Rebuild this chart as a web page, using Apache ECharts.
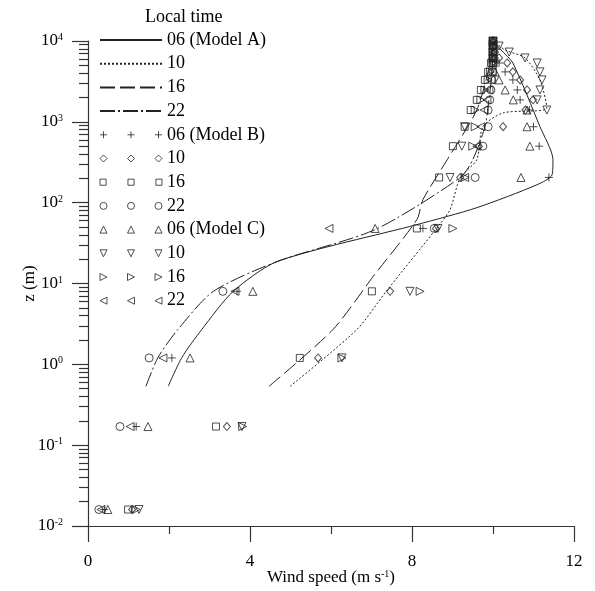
<!DOCTYPE html>
<html><head><meta charset="utf-8">
<script src="https://cdn.jsdelivr.net/npm/echarts@6/dist/echarts.min.js"></script>
<style>html,body{margin:0;padding:0;background:#fff}#c{width:595px;height:591px}</style>
</head><body><div id="c"></div>
<script>
// ---- data ----
const xTicks = [0, 4, 8, 12];
const yDecades = [0.01, 0.1, 1, 10, 100, 1000, 10000];

// Model A profiles: [wind speed (m/s), z (m)]
const lineA06 = [[1.98,0.535],[2.32,1.22],[2.81,2.70],[3.58,7.96],[4.67,18.7],[8.12,53.5],[9.60,86.7],[11.09,167],[11.46,222],[11.48,340],[11.16,870],[10.49,5350],[10.2,7740],[10.0,10000]];
const lineA10 = [[4.99,0.535],[6.64,2.70],[7.36,7.96],[8.64,50.6],[8.94,82],[9.19,204],[9.60,340],[9.75,870],[10.25,1290],[11.33,1490],[11.16,3300],[10.79,6170],[10.30,7740],[10.0,10000]];
const lineA16 = [[4.47,0.535],[6.05,2.70],[7.04,12.2],[8.12,61.7],[8.27,109],[8.87,340],[9.60,1406],[9.93,5350],[10.0,10000]];
const lineA22 = [[1.43,0.535],[1.73,1.22],[2.22,2.70],[3.09,7.96],[4.67,18.7],[7.09,46.5],[9.19,204],[9.50,340],[9.80,870],[9.90,1870],[9.98,4385],[10.0,10000]];

// Model B / C levels (m)
const levels   = [0.016, 0.17, 1.2, 8, 48, 205, 500, 870, 1400, 1870, 2480, 3300, 4150, 5350, 6170, 7300, 8660, 10000];
const modelB06 = [0.40, 1.19, 2.07, 3.68, 8.27, 11.38, 11.14, 11.00, 10.90, 10.67, 10.60, 10.49, 10.30, 10.15, 10.05, 10.0, 10.0, 10.0];
const modelB10 = [1.09, 3.43, 5.68, 7.46, 8.59, 9.19, 9.65, 10.25, 10.80, 10.99, 10.84, 10.67, 10.49, 10.35, 10.15, 10.05, 10.0, 10.0];
const modelB16 = [0.99, 3.16, 5.23, 7.01, 8.12, 8.67, 9.01, 9.30, 9.45, 9.60, 9.70, 9.80, 9.88, 9.95, 10.0, 10.0, 10.0, 10.0];
const modelB22 = [0.27, 0.79, 1.51, 3.33, 8.55, 9.56, 9.75, 9.88, 9.88, 9.92, 9.95, 9.97, 9.99, 10.0, 10.0, 10.0, 10.0, 10.0];
const modelC06 = [0.49, 1.48, 2.52, 4.07, 7.09, 10.69, 10.91, 10.84, 10.84, 10.50, 10.30, 10.15, 10.05, 10.0, 10.0, 10.0, 10.0, 10.0];
const modelC10 = [1.26, 3.80, 6.27, 7.95, 8.64, 8.94, 9.23, 9.30, 11.33, 11.09, 11.16, 11.21, 11.16, 11.09, 10.79, 10.40, 10.15, 10.0];
const modelC16 = [1.19, 3.82, 6.27, 8.20, 9.01, 9.31, 9.50, 9.56, 9.56, 9.70, 9.80, 9.88, 9.94, 10.0, 10.0, 10.0, 10.0, 10.0];
const modelC22 = [0.32, 1.04, 1.85, 3.63, 5.95, 9.30, 9.60, 9.70, 9.78, 9.85, 9.90, 9.95, 9.98, 10.0, 10.0, 10.0, 10.0, 10.0];

// ---- styling ----
const SERIF = 'Liberation Serif';
const INK = '#222';
const minorY = [];
for (let e = -2; e < 4; e++) for (let m = 2; m <= 9; m++) minorY.push(+(m * Math.pow(10, e)).toPrecision(3));

const PLUS = 'path://M0,3.5H7M3.5,0V7';
function triple(shape) { return 'path://' + [0, 27.5, 55].map(o => shape(o)).join(''); }
const shapes = {
  plus: o => `M${o},3.5H${o+7}M${o+3.5},0V7`,
  diamond: o => `M${o+3.5},0L${o+7},3.5L${o+3.5},7L${o},3.5Z`,
  rect: o => `M${o+0.5},0.5H${o+6.5}V6.5H${o+0.5}Z`,
  circle: o => `M${o},3.5A3.5,3.5 0 1,0 ${o+7},3.5A3.5,3.5 0 1,0 ${o},3.5Z`,
  up: o => `M${o+3.5},0L${o+7},7L${o},7Z`,
  down: o => `M${o},0L${o+7},0L${o+3.5},7Z`,
  right: o => `M${o},0L${o+7},3.5L${o},7Z`,
  left: o => `M${o+7},0L${o},3.5L${o+7},7Z`
};

const lineDefs = [
  {id:'A06', label:'06 (Model A)', data: lineA06, dash:'solid'},
  {id:'A10', label:'10', data: lineA10, dash:[2,2]},
  {id:'A16', label:'16', data: lineA16, dash:[15,5]},
  {id:'A22', label:'22', data: lineA22, dash:[15,3,2,3]}
];
const markerDefs = [
  {id:'B06', label:'06 (Model B)', xs: modelB06, symbol: PLUS, rot:0, size:8, icon:'plus'},
  {id:'B10', label:'10', xs: modelB10, symbol:'diamond', rot:0, size:[7,8], icon:'diamond'},
  {id:'B16', label:'16', xs: modelB16, symbol:'rect', rot:0, size:7, icon:'rect'},
  {id:'B22', label:'22', xs: modelB22, symbol:'circle', rot:0, size:8, icon:'circle'},
  {id:'C06', label:'06 (Model C)', xs: modelC06, symbol:'triangle', rot:0, size:8, icon:'up'},
  {id:'C10', label:'10', xs: modelC10, symbol:'triangle', rot:180, size:8, icon:'down'},
  {id:'C16', label:'16', xs: modelC16, symbol:'triangle', rot:-90, size:8, icon:'right'},
  {id:'C22', label:'22', xs: modelC22, symbol:'triangle', rot:90, size:8, icon:'left'}
];
const labelOf = {};
lineDefs.concat(markerDefs).forEach(d => labelOf[d.id] = d.label);

const series = [];
lineDefs.forEach(d => series.push({
  name: d.id, type:'line', data: d.data, symbol:'none', showSymbol:false, smooth:0.25,
  lineStyle:{color:INK, width:1, type:d.dash}, itemStyle:{color:INK}, z:2, silent:true
}));
markerDefs.forEach(d => series.push({
  name: d.id, type:'scatter', data: levels.map((z, i) => [d.xs[i], z]),
  symbol: d.symbol, symbolRotate: d.rot, symbolSize: d.size,
  itemStyle:{color:'transparent', borderColor:INK, borderWidth:1}, z:3, silent:true
}));

const legendData = lineDefs.map(d => ({name:d.id,
    itemStyle:{color:'transparent', borderColor:'transparent', borderWidth:0, opacity:0}}))
  .concat(markerDefs.map(d => ({name:d.id, icon: triple(shapes[d.icon]),
    itemStyle:{color:'transparent', borderColor:INK, borderWidth:1}})));

const chart = echarts.init(document.getElementById('c'), null, {renderer:'canvas'});
chart.setOption({
  animation:false,
  backgroundColor:'#fff',
  title:{text:'Local time', left:140, top:3, textStyle:{fontFamily:SERIF, fontSize:18, fontWeight:'normal', color:'#000'}},
  legend:{
    orient:'vertical', left:94, top:26, itemWidth:62, itemHeight:7, itemGap:5.7,
    selectedMode:false, data: legendData,
    formatter: n => labelOf[n],
    textStyle:{fontFamily:SERIF, fontSize:18, color:'#000', lineHeight:18}
  },
  grid:{left:88, right:21, top:41, bottom:64, containLabel:false},
  xAxis:{
    type:'value', min:xTicks[0], max:xTicks[xTicks.length-1], interval:4,
    axisLine:{lineStyle:{color:'#333', width:1.2}},
    axisTick:{show:true, inside:false, length:16, lineStyle:{color:'#333', width:1.2}},
    minorTick:{show:true, splitNumber:2, length:8, lineStyle:{color:'#333', width:1.2}},
    splitLine:{show:false},
    axisLabel:{fontFamily:SERIF, fontSize:17, color:'#000', margin:27},
    name:'Wind speed (m s{s|-1})', nameLocation:'middle', nameGap:43, nameMoveOverlap:false,
    nameTextStyle:{fontFamily:SERIF, fontSize:17, color:'#000',
      rich:{s:{fontFamily:SERIF, fontSize:10, verticalAlign:'top', color:'#000'}}}
  },
  yAxis:[{
    type:'log', logBase:10, min:yDecades[0], max:yDecades[yDecades.length-1],
    axisLine:{show:true, lineStyle:{color:'#333', width:1.2}},
    axisTick:{show:true, inside:false, length:16, lineStyle:{color:'#333', width:1.2}},
    splitLine:{show:false},
    axisLabel:{margin:25, formatter: v => '{b|10}{s|' + Math.round(Math.log10(v)) + '}',
      rich:{b:{fontFamily:SERIF, fontSize:17, color:'#000'}, s:{fontFamily:SERIF, fontSize:10, verticalAlign:'top', color:'#000'}}},
    name:'z (m)', nameLocation:'middle', nameGap:50, nameMoveOverlap:false,
    nameTextStyle:{fontFamily:SERIF, fontSize:17, color:'#000'}
  },{
    type:'log', logBase:10, min:yDecades[0], max:yDecades[yDecades.length-1], position:'left',
    axisLine:{show:false}, axisLabel:{show:false}, splitLine:{show:false},
    axisTick:{show:true, inside:false, length:9, customValues:minorY, lineStyle:{color:'#333', width:1.2}}
  }],
  series: series
});
</script>
</body></html>
